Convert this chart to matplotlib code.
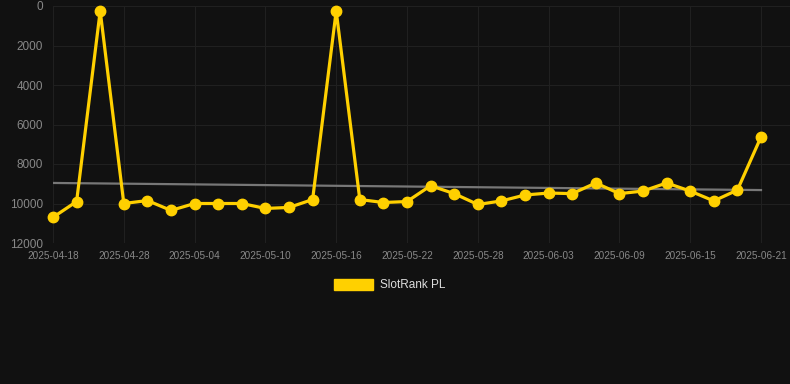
import matplotlib
matplotlib.use("Agg")
import matplotlib.pyplot as plt
import matplotlib.patches as mpatches

# rank values per day (lower number = better rank, axis inverted)
dates = ["2025-04-18", "2025-04-20", "2025-04-24", "2025-04-28", "2025-04-30",
         "2025-05-02", "2025-05-04", "2025-05-06", "2025-05-08", "2025-05-10",
         "2025-05-12", "2025-05-14", "2025-05-16", "2025-05-18", "2025-05-20",
         "2025-05-22", "2025-05-24", "2025-05-26", "2025-05-28", "2025-05-30",
         "2025-06-01", "2025-06-03", "2025-06-05", "2025-06-07", "2025-06-09",
         "2025-06-11", "2025-06-13", "2025-06-15", "2025-06-17", "2025-06-19",
         "2025-06-21"]
ranks = [10700, 9900, 250, 10000, 9850, 10350, 10000, 10000, 10000, 10250,
         10200, 9800, 250, 9800, 9950, 9900, 9100, 9500, 10050, 9870,
         9570, 9470, 9500, 8960, 9500, 9370, 8960, 9370, 9870, 9320,
         6630]
trend_start = 8960
trend_end = 9320
series_name = "SlotRank PL"

bg = "#111111"
gold = "#FFD000"

fig = plt.figure(figsize=(7.9, 3.84), dpi=100, facecolor=bg)
ax = fig.add_axes([53 / 790, (384 - 243) / 384, 1 - 53 / 790, 237 / 384])
ax.set_facecolor(bg)

x = list(range(len(ranks)))
ax.plot([0, len(ranks) - 1], [trend_start, trend_end], color="#777777", lw=1.6, zorder=2)
ax.plot(x, ranks, color=gold, lw=2.3, marker="o", ms=7.5, zorder=3, clip_on=False)

ax.set_xlim(0, (790 - 53) / ((761 - 53) / 30))
ax.set_ylim(12000, 0)
ax.set_yticks(range(0, 12001, 2000))
ax.set_xticks(x[::3])
ax.set_xticklabels(dates[::3])

for s in ax.spines.values():
    s.set_visible(False)
ax.grid(True, color="#202020", lw=0.8)
ax.set_axisbelow(True)
ax.tick_params(axis="x", colors="#888888", labelsize=7.2, length=0, pad=6,
               labelfontfamily="Liberation Sans")
ax.tick_params(axis="y", colors="#888888", labelsize=8.5, length=0, pad=7,
               labelfontfamily="Liberation Sans")

handle = mpatches.Patch(color=gold, label=series_name)
leg = fig.legend(handles=[handle], loc="center", bbox_to_anchor=(390 / 790, 1 - 285 / 384),
                 frameon=False, handlelength=3.3, handleheight=1.1, handletextpad=0.6,
                 prop={"family": "Liberation Sans", "size": 8.5})
for t in leg.get_texts():
    t.set_color("#dddddd")

fig.savefig("out.png", dpi=100, facecolor=bg)
